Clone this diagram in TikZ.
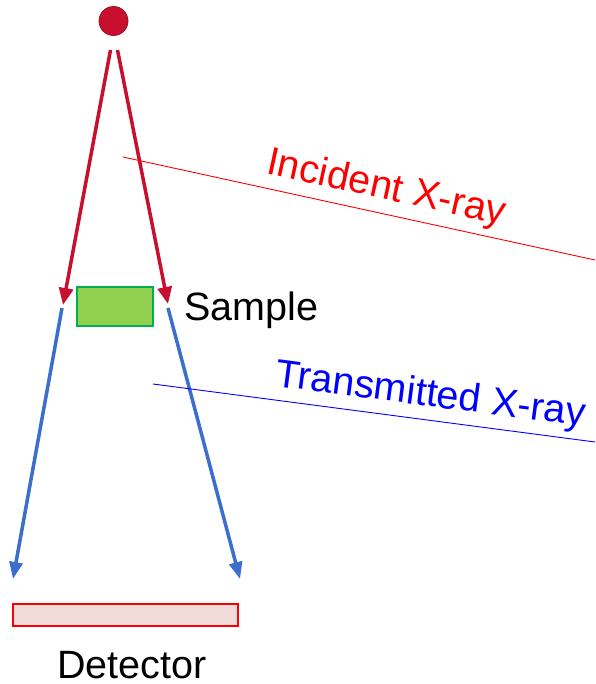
\documentclass[tikz,border=0pt]{standalone}
\usepackage{fontspec}
\setmainfont{Liberation Sans}
\usetikzlibrary{arrows.meta}
\definecolor{srcred}{RGB}{200,16,46}
\definecolor{rayblue}{RGB}{60,110,205}
\definecolor{samplefill}{RGB}{146,208,80}
\definecolor{sampledraw}{RGB}{0,176,80}
\definecolor{detfill}{RGB}{242,220,219}
\tikzset{
  bigtext/.style={font=\fontsize{39.5}{42}\selectfont, inner sep=0pt},
  redray/.style={draw=srcred, line width=3.5pt, -{Triangle[length=17pt,width=14pt]}},
  blueray/.style={draw=rayblue, line width=3.5pt, -{Triangle[length=17pt,width=13pt]}},
  pointer/.style={line width=0.9pt},
}
\begin{document}
\begin{tikzpicture}[x=1pt,y=-1pt]
\useasboundingbox (0,0) rectangle (595,684);
% source
\node[circle, fill=srcred, draw=srcred!80!black, line width=0.8pt, minimum size=29pt, inner sep=0pt] (src) at (113.5,21) {};
% sample
\node[draw=sampledraw, fill=samplefill, line width=2pt, minimum width=76pt, minimum height=39pt, inner sep=0pt] (sample) at (115,306.5) {};
\node[bigtext, anchor=base west] (samplelbl) at (184,320) {Sample};
% detector
\node[draw=red, fill=detfill, line width=2pt, minimum width=225pt, minimum height=22pt, inner sep=0pt] (det) at (125.5,615) {};
\node[bigtext, anchor=base] (detlbl) at (132,678) {Detector};
% ray coordinates
\coordinate (r1s) at (110.5,50);
\coordinate (r1e) at (63,305);
\coordinate (r2s) at (117.5,50);
\coordinate (r2e) at (168,304);
\coordinate (b1s) at (62,308);
\coordinate (b1e) at (13,579);
\coordinate (b2s) at (168,308);
\coordinate (b2e) at (240,579);
\draw[redray] (r1s) -- (r1e);
\draw[redray] (r2s) -- (r2e);
\draw[blueray] (b1s) -- (b1e);
\draw[blueray] (b2s) -- (b2e);
% labels with pointer lines
\coordinate (inca) at (123,157);
\coordinate (incb) at (595,260);
\draw[pointer, red] (inca) -- (incb);
\node[bigtext, text=red, anchor=base west, rotate=-12.3] (inclbl) at (265,173) {Incident X-ray};
\coordinate (tra) at (153,384);
\coordinate (trb) at (595,442);
\draw[pointer, blue] (tra) -- (trb);
\node[bigtext, text=blue, anchor=base west, rotate=-7.4] (trlbl) at (274,386) {Transmitted X-ray};
\end{tikzpicture}
\end{document}
